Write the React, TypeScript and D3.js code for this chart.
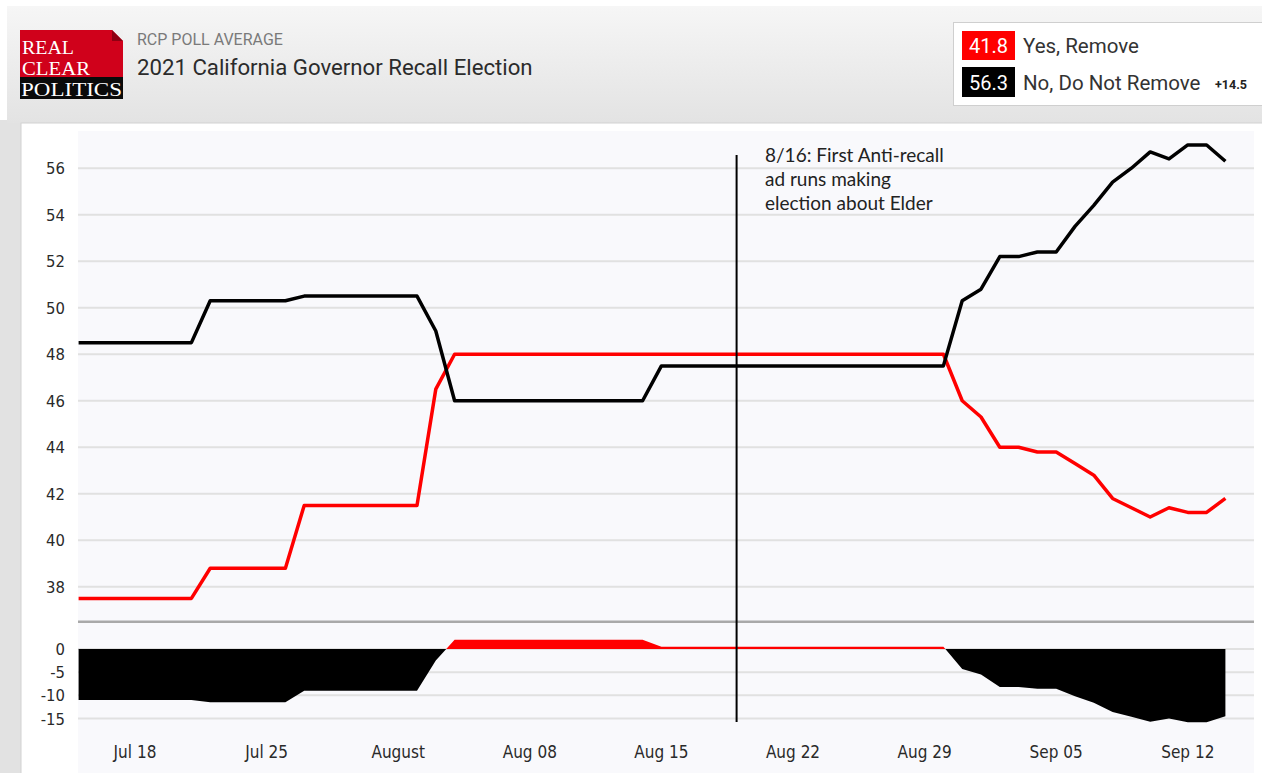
import React from "react";
import * as d3 from "d3";

// ---------- data ----------
const START_DATE = "2021-07-15"; // first daily value, then one value per day

const YES_REMOVE = [
  37.5, 37.5, 37.5, 37.5, 37.5, 37.5, 37.5,
  38.8, 38.8, 38.8, 38.8, 38.8,
  41.5, 41.5, 41.5, 41.5, 41.5, 41.5, 41.5,
  46.5,
  48.0, 48.0, 48.0, 48.0, 48.0, 48.0, 48.0, 48.0, 48.0, 48.0, 48.0,
  48.0, 48.0, 48.0, 48.0, 48.0, 48.0, 48.0, 48.0, 48.0, 48.0, 48.0, 48.0, 48.0, 48.0, 48.0, 48.0,
  46.0, 45.3, 44.0, 44.0, 43.8, 43.8, 43.3, 42.8, 41.8, 41.4, 41.0, 41.4, 41.2, 41.2, 41.8,
];

const NO_REMOVE = [
  48.5, 48.5, 48.5, 48.5, 48.5, 48.5, 48.5,
  50.3, 50.3, 50.3, 50.3, 50.3,
  50.5, 50.5, 50.5, 50.5, 50.5, 50.5, 50.5,
  49.0,
  46.0, 46.0, 46.0, 46.0, 46.0, 46.0, 46.0, 46.0, 46.0, 46.0, 46.0,
  47.5, 47.5, 47.5, 47.5, 47.5, 47.5, 47.5, 47.5, 47.5, 47.5, 47.5, 47.5, 47.5, 47.5, 47.5, 47.5,
  50.3, 50.8, 52.2, 52.2, 52.4, 52.4, 53.5, 54.4, 55.4, 56.0, 56.7, 56.4, 57.0, 57.0, 56.3,
];

const Y_TICKS = [38, 40, 42, 44, 46, 48, 50, 52, 54, 56];
const SPREAD_TICKS = [0, -5, -10, -15];
const X_TICK_DATES = [
  "2021-07-18", "2021-07-25", "2021-08-01", "2021-08-08", "2021-08-15",
  "2021-08-22", "2021-08-29", "2021-09-05", "2021-09-12",
];
const X_TICK_LABELS = [
  "Jul 18", "Jul 25", "August", "Aug 08", "Aug 15", "Aug 22", "Aug 29", "Sep 05", "Sep 12",
];
const SERIES_NAMES = ["Yes, Remove", "No, Do Not Remove"];
const ANNOTATION_DATE = "2021-08-19";
const ANNOTATION_LINES = ["8/16: First Anti-recall", "ad runs making", "election about Elder"];
const HEADER_SUB = "RCP POLL AVERAGE";
const HEADER_TITLE = "2021 California Governor Recall Election";
const LOGO_WORDS = ["REAL", "CLEAR", "POLITICS"];

const RED = "#ff0000";
const BLACK = "#000000";

export default function App() {
  const parse = d3.timeParse("%Y-%m-%d");
  const start = parse(START_DATE) as Date;
  const dates = YES_REMOVE.map((_, i) => d3.timeDay.offset(start, i));
  const last = dates.length - 1;

  const x = d3.scaleTime().domain([start, dates[last]]).range([78.6, 1225.4]);
  const y = d3.scaleLinear().domain([36.5, 57.6]).range([621.7, 131]);
  const ys = d3.scaleLinear().domain([0, -15]).range([649, 718.5]);

  const spread = YES_REMOVE.map((v, i) => +(v - NO_REMOVE[i]).toFixed(1));

  const line = d3
    .line<number>()
    .x((_, i) => x(dates[i]))
    .y((d) => y(d));
  const area = d3
    .area<number>()
    .x((_, i) => x(dates[i]))
    .y0(ys(0))
    .y1((d) => ys(d));

  const plotLeft = 78;
  const plotRight = 1254;
  const annX = x(parse(ANNOTATION_DATE) as Date);

  const yesLast = YES_REMOVE[last];
  const noLast = NO_REMOVE[last];
  const lead = (noLast - yesLast).toFixed(1);

  const axisFont = "'DejaVu Sans Condensed', 'DejaVu Sans', sans-serif";
  const serif = "'Liberation Serif', 'DejaVu Serif', serif";

  return (
    <div style={{ position: "absolute", left: 0, top: 0 }}>
      <svg width={1262} height={773} style={{ display: "block" }}>
        <defs>
          <linearGradient id="hdr" x1="0" y1="0" x2="0" y2="1">
            <stop offset="0%" stopColor="#f6f6f6" />
            <stop offset="100%" stopColor="#e3e3e3" />
          </linearGradient>
          <clipPath id="clipPos">
            <rect x={0} y={600} width={1262} height={ys(0) - 600} />
          </clipPath>
          <clipPath id="clipNeg">
            <rect x={0} y={ys(0)} width={1262} height={773 - ys(0)} />
          </clipPath>
        </defs>

        {/* page background */}
        <rect x={0} y={0} width={1262} height={773} fill="#e2e2e2" />
        <rect x={0} y={0} width={1262} height={6} fill="#ffffff" />
        <rect x={0} y={0} width={7} height={120} fill="#ffffff" />
        <rect x={7} y={6} width={1255} height={117} fill="url(#hdr)" />

        {/* white chart panel */}
        <rect x={21} y={123} width={1250} height={660} fill="#ffffff" stroke="#d2d2d2" />
        <rect x={plotLeft} y={131} width={plotRight - plotLeft} height={642} fill="#f9f9fc" />

        {/* logo */}
        <g>
          <rect x={20} y={30} width={103} height={47} fill="#d0011b" />
          <path d="M112,30 L123,30 L123,41 Z" fill="#f0f0f0" />
          <path d="M112,30 L123,41 L112,41 Z" fill="#8e0012" />
          <rect x={20} y={77} width={103} height={22} fill="#0a0a0a" />
          <text x={22} y={54} fill="#fff" fontFamily={serif} fontSize={19.5} textLength={52} lengthAdjust="spacingAndGlyphs">{LOGO_WORDS[0]}</text>
          <text x={22} y={75} fill="#fff" fontFamily={serif} fontSize={19.5} textLength={68} lengthAdjust="spacingAndGlyphs">{LOGO_WORDS[1]}</text>
          <text x={21} y={96} fill="#fff" fontFamily={serif} fontSize={19.5} textLength={101} lengthAdjust="spacingAndGlyphs">{LOGO_WORDS[2]}</text>
        </g>

        {/* header text */}
        <text x={137} y={45} fill="#7a7a7a" fontFamily="Roboto, sans-serif" fontSize={16}>{HEADER_SUB}</text>
        <text x={137} y={75} fill="#2b2b2b" fontFamily="Roboto, sans-serif" fontSize={22.2}>{HEADER_TITLE}</text>

        {/* legend */}
        <g fontFamily="Roboto, sans-serif">
          <rect x={953.5} y={22.5} width={320} height={83} fill="#ffffff" stroke="#cfcfcf" />
          <rect x={962} y={31} width={53} height={29} fill={RED} />
          <text x={988.5} y={52.5} fill="#fff" fontSize={20} textAnchor="middle">{yesLast.toFixed(1)}</text>
          <text x={1023} y={52.5} fill="#333" fontSize={20.5}>{SERIES_NAMES[0]}</text>
          <rect x={962} y={67} width={53} height={30} fill={BLACK} />
          <text x={988.5} y={89.5} fill="#fff" fontSize={20} textAnchor="middle">{noLast.toFixed(1)}</text>
          <text x={1023} y={89.5} fill="#333" fontSize={20.5}>{SERIES_NAMES[1]}</text>
          <text x={1215} y={89} fill="#222" fontSize={12.5} fontWeight="bold">+{lead}</text>
        </g>

        {/* main gridlines */}
        {Y_TICKS.map((t) => (
          <line key={"g" + t} x1={plotLeft} x2={plotRight} y1={y(t)} y2={y(t)} stroke="#e1e1e1" strokeWidth={2} />
        ))}
        {Y_TICKS.map((t) => (
          <text key={"yl" + t} x={65} y={y(t) + 6} textAnchor="end" fontFamily={axisFont} fontSize={16.5} fill="#2a2a2a">
            {t}
          </text>
        ))}

        {/* separator between panels */}
        <line x1={plotLeft} x2={plotRight} y1={621.7} y2={621.7} stroke="#a9a9a9" strokeWidth={2.5} />

        {/* spread gridlines */}
        {SPREAD_TICKS.map((t) => (
          <line key={"sg" + t} x1={plotLeft} x2={plotRight} y1={ys(t)} y2={ys(t)} stroke="#e1e1e1" strokeWidth={2} />
        ))}
        {SPREAD_TICKS.map((t) => (
          <text key={"sl" + t} x={65} y={ys(t) + 6} textAnchor="end" fontFamily={axisFont} fontSize={16.5} fill="#2a2a2a">
            {t}
          </text>
        ))}

        {/* spread areas */}
        <path d={area(spread) || ""} fill={RED} clipPath="url(#clipPos)" />
        <path d={area(spread) || ""} fill={BLACK} clipPath="url(#clipNeg)" />

        {/* lines */}
        <path d={line(YES_REMOVE) || ""} fill="none" stroke={RED} strokeWidth={3.5} strokeLinejoin="round" />
        <path d={line(NO_REMOVE) || ""} fill="none" stroke={BLACK} strokeWidth={3.5} strokeLinejoin="round" />

        {/* x labels */}
        {X_TICK_DATES.map((d, i) => (
          <text key={"xl" + d} x={x(parse(d) as Date)} y={758} textAnchor="middle" fontFamily={axisFont} fontSize={17} fill="#2a2a2a">
            {X_TICK_LABELS[i]}
          </text>
        ))}

        {/* annotation */}
        <line x1={annX} x2={annX} y1={155} y2={722} stroke="#000" strokeWidth={2} />
        {ANNOTATION_LINES.map((t, i) => (
          <text key={"a" + i} x={765} y={162 + i * 24} fontFamily="Lato, 'Open Sans', sans-serif" fontSize={19} fill="#222">
            {t}
          </text>
        ))}
      </svg>
    </div>
  );
}
